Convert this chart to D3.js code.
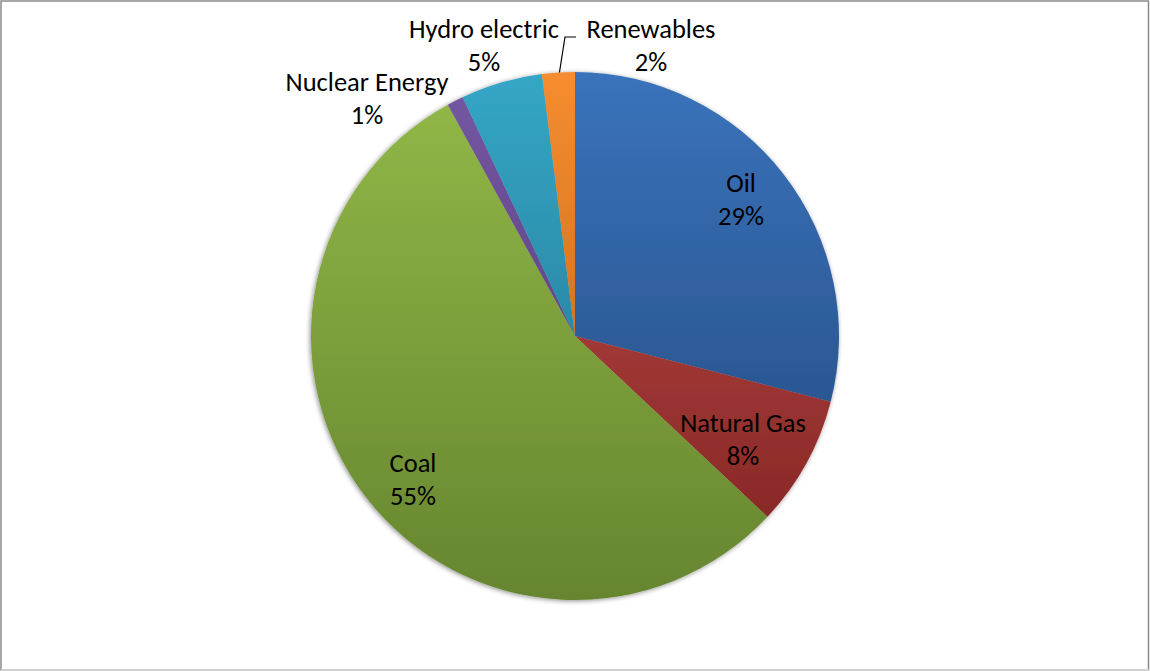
<!DOCTYPE html>
<html>
<head>
<meta charset="utf-8">
<script src="https://cdn.jsdelivr.net/npm/d3@7"></script>
<style>
  html, body { margin: 0; padding: 0; background: #fff; }
  svg { display: block; }
</style>
</head>
<body>
<svg id="chart" width="1150" height="671"></svg>
<script>
// Energy mix shares (percent), clockwise from 12 o'clock
const categories = ["Oil", "Natural Gas", "Coal", "Nuclear Energy", "Hydro electric", "Renewables"];
const shares = [29, 8, 55, 1, 5, 2];
const percentLabels = ["29%", "8%", "55%", "1%", "5%", "2%"];
// light (top) and dark (bottom) shade for each slice's vertical gradient
const topColors = ["#3a73bb", "#c4504c", "#93b948", "#7557a3", "#35a6c7", "#f58d30"];
const bottomColors = ["#22467a", "#7e2120", "#66852f", "#4c3770", "#1f6e86", "#b05d18"];

const W = 1150, H = 671;
const cx = 575, cy = 336, R = 264;

const svg = d3.select("#chart");
const defs = svg.append("defs");

// soft shadow beneath the pie
const shadow = defs.append("filter").attr("id", "pieShadow")
  .attr("x", "-10%").attr("y", "-10%").attr("width", "120%").attr("height", "120%");
shadow.append("feGaussianBlur").attr("in", "SourceAlpha").attr("stdDeviation", 2.5).attr("result", "blur");
shadow.append("feOffset").attr("in", "blur").attr("dx", -1).attr("dy", 1).attr("result", "off");
shadow.append("feComponentTransfer").attr("in", "off").attr("result", "soft")
  .append("feFuncA").attr("type", "linear").attr("slope", 0.45);
const merge = shadow.append("feMerge");
merge.append("feMergeNode").attr("in", "soft");
merge.append("feMergeNode").attr("in", "SourceGraphic");

// vertical gradients in page coordinates, shifted to the pie group's origin
categories.forEach((c, i) => {
  const g = defs.append("linearGradient")
    .attr("id", "grad" + i)
    .attr("gradientUnits", "userSpaceOnUse")
    .attr("x1", 0).attr("x2", 0)
    .attr("y1", cy - R).attr("y2", cy + R)
    .attr("gradientTransform", `translate(0,${-cy})`);
  g.append("stop").attr("offset", "0%").attr("stop-color", topColors[i]);
  g.append("stop").attr("offset", "100%").attr("stop-color", bottomColors[i]);
});

// chart frame
svg.append("rect")
  .attr("x", 1).attr("y", 1).attr("width", W - 2.5).attr("height", H - 2)
  .attr("fill", "#fff").attr("stroke", "#8a8a8a").attr("stroke-width", 1.5);
svg.append("line")
  .attr("x1", 1).attr("x2", W - 1).attr("y1", H - 1).attr("y2", H - 1)
  .attr("stroke", "#d0d0d0").attr("stroke-width", 2);

const data = categories.map((c, i) => ({ name: c, value: shares[i], label: percentLabels[i], i }));

const pie = d3.pie().value(d => d.value).sort(null);
const arcs = pie(data);
const arc = d3.arc().innerRadius(0).outerRadius(R);

const gPie = svg.append("g").attr("transform", `translate(${cx},${cy})`);
gPie.append("g").attr("filter", "url(#pieShadow)")
  .selectAll("path")
  .data(arcs)
  .join("path")
  .attr("d", arc)
  .attr("fill", d => `url(#grad${d.data.i})`);

// label anchor points (centre of the name line)
const labelPos = {
  "Oil": [741, 183],
  "Natural Gas": [743, 423],
  "Coal": [413, 463],
  "Nuclear Energy": [367, 82],
  "Hydro electric": [484, 29],
  "Renewables": [651, 29]
};

const font = "Carlito, Calibri, Lato, 'Open Sans', sans-serif";
const labels = svg.append("g").attr("font-family", font).attr("font-size", 26.5).attr("fill", "#000")
  .attr("text-anchor", "middle");
arcs.forEach(a => {
  const p = labelPos[a.data.name];
  const t = labels.append("text").attr("x", p[0]).attr("y", p[1]);
  t.append("tspan").attr("x", p[0]).attr("dy", "0.35em").text(a.data.name);
  t.append("tspan").attr("x", p[0]).attr("dy", 32.5).text(a.data.label);
});

// leader line for the Renewables slice
const ren = arcs[5];
const mid = (ren.startAngle + ren.endAngle) / 2;
const ex = cx + R * Math.sin(mid), ey = cy - R * Math.cos(mid);
svg.append("path")
  .attr("d", d3.line()([[ex + 1, ey], [565, 37], [576, 37]]))
  .attr("fill", "none").attr("stroke", "#000").attr("stroke-width", 1.2);
</script>
</body>
</html>
